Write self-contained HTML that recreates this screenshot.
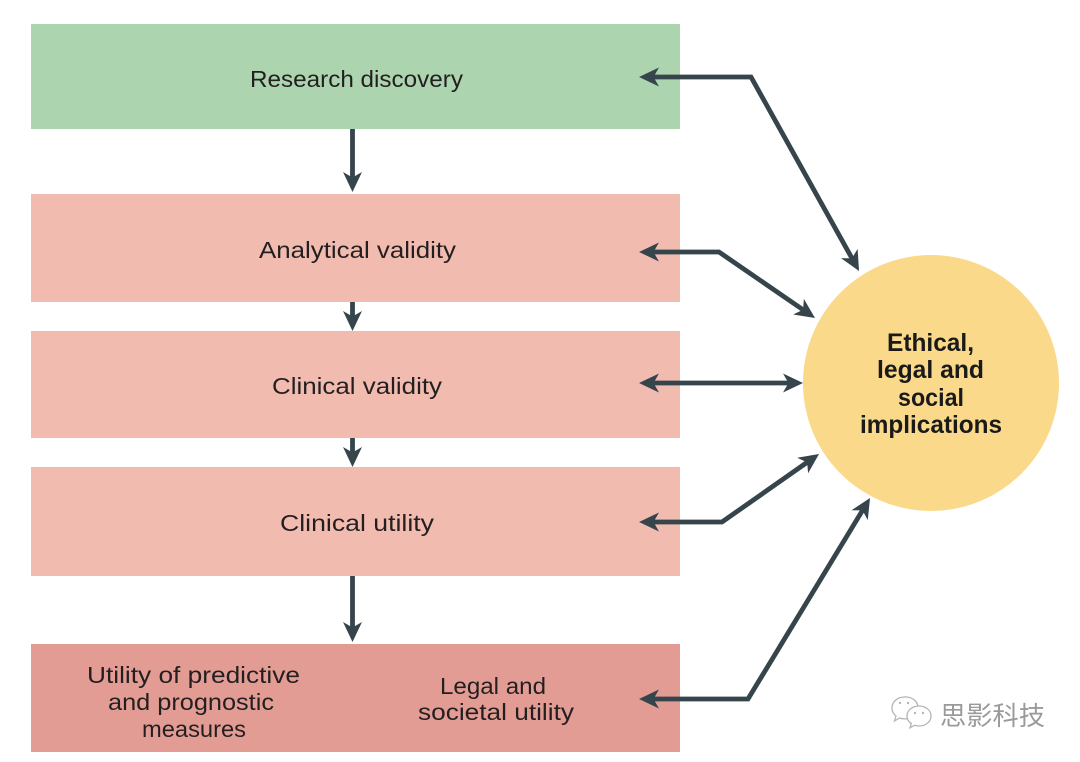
<!DOCTYPE html>
<html>
<head>
<meta charset="utf-8">
<style>
  html, body { margin:0; padding:0; background:#ffffff; }
  body { width:1080px; height:762px; overflow:hidden; }
  svg { display:block; }
  .lbl { font-family:"Liberation Sans", sans-serif; font-size:23px; fill:#231f20; }
  .bold { font-family:"Liberation Sans", sans-serif; font-size:25px; font-weight:bold; fill:#1a1a1a; }
</style>
</head>
<body>
<svg width="1080" height="762" viewBox="0 0 1080 762" xmlns="http://www.w3.org/2000/svg">
  <defs>
    <marker id="ah" markerUnits="userSpaceOnUse" markerWidth="22" markerHeight="22" viewBox="0 0 22 22" refX="8" refY="10" orient="auto-start-reverse">
      <path d="M0,0.5 L20,10 L0,19.5 L5.5,10 Z" fill="#36444b"/>
    </marker>
  </defs>

  <!-- boxes -->
  <rect x="31" y="24" width="649" height="105" fill="#acd4ae"/>
  <rect x="31" y="194" width="649" height="108" fill="#f1bbb0"/>
  <rect x="31" y="331" width="649" height="107" fill="#f1bbb0"/>
  <rect x="31" y="467" width="649" height="109" fill="#f1bbb0"/>
  <rect x="31" y="644" width="649" height="108" fill="#e39c94"/>

  <!-- circle -->
  <circle cx="931" cy="383" r="128" fill="#fbd98a"/>

  <!-- box labels -->
  <text class="lbl" x="356.5" y="87" text-anchor="middle" textLength="213" lengthAdjust="spacingAndGlyphs">Research discovery</text>
  <text class="lbl" x="357.5" y="258" text-anchor="middle" textLength="197" lengthAdjust="spacingAndGlyphs">Analytical validity</text>
  <text class="lbl" x="357" y="394" text-anchor="middle" textLength="170" lengthAdjust="spacingAndGlyphs">Clinical validity</text>
  <text class="lbl" x="357" y="531" text-anchor="middle" textLength="154" lengthAdjust="spacingAndGlyphs">Clinical utility</text>

  <text class="lbl" x="193.5" y="683" text-anchor="middle" textLength="213" lengthAdjust="spacingAndGlyphs">Utility of predictive</text>
  <text class="lbl" x="191" y="710" text-anchor="middle" textLength="166" lengthAdjust="spacingAndGlyphs">and prognostic</text>
  <text class="lbl" x="194" y="737" text-anchor="middle" textLength="104" lengthAdjust="spacingAndGlyphs">measures</text>

  <text class="lbl" x="493" y="694" text-anchor="middle" textLength="106" lengthAdjust="spacingAndGlyphs">Legal and</text>
  <text class="lbl" x="496" y="720" text-anchor="middle" textLength="156" lengthAdjust="spacingAndGlyphs">societal utility</text>

  <!-- circle labels -->
  <text class="bold" x="930.5" y="351" text-anchor="middle" textLength="87" lengthAdjust="spacingAndGlyphs">Ethical,</text>
  <text class="bold" x="930.5" y="378" text-anchor="middle" textLength="107" lengthAdjust="spacingAndGlyphs">legal and</text>
  <text class="bold" x="931" y="406" text-anchor="middle" textLength="66" lengthAdjust="spacingAndGlyphs">social</text>
  <text class="bold" x="931" y="433" text-anchor="middle" textLength="142" lengthAdjust="spacingAndGlyphs">implications</text>

  <!-- down arrows -->
  <g stroke="#36444b" stroke-width="4.8" fill="none">
    <line x1="352.5" y1="129" x2="352.5" y2="180" marker-end="url(#ah)"/>
    <line x1="352.5" y1="302" x2="352.5" y2="319" marker-end="url(#ah)"/>
    <line x1="352.5" y1="438" x2="352.5" y2="455" marker-end="url(#ah)"/>
    <line x1="352.5" y1="576" x2="352.5" y2="630" marker-end="url(#ah)"/>
  </g>

  <!-- connectors to circle -->
  <g stroke="#36444b" stroke-width="4.8" fill="none" stroke-linejoin="miter">
    <polyline points="651,77 751,77 853.2,260.5" marker-start="url(#ah)" marker-end="url(#ah)"/>
    <polyline points="651,252 719,252 805.1,311.2" marker-start="url(#ah)" marker-end="url(#ah)"/>
    <line x1="651" y1="383" x2="791" y2="383" marker-start="url(#ah)" marker-end="url(#ah)"/>
    <polyline points="651,522 722,522 809.2,460.9" marker-start="url(#ah)" marker-end="url(#ah)"/>
    <polyline points="651,699 748,699 863.8,508.3" marker-start="url(#ah)" marker-end="url(#ah)"/>
  </g>

  <!-- watermark -->
  <g fill="#ffffff" stroke="#b5b5b5" stroke-width="1.3">
    <path d="M905,697 c-8,0 -13,5 -13,11 c0,3.5 1.5,6 4,8 l-1.5,5 l5,-3 c1.8,0.6 3.6,0.9 5.5,0.9 c8,0 13,-5 13,-11 c0,-6 -5,-11 -13,-11 z"/>
    <path d="M919,706 c7,0 12,4.5 12,10 c0,5.5 -5,10 -12,10 c-1.6,0 -3,-0.2 -4.5,-0.7 l-4.5,2.5 l1.3,-4.2 c-2.7,-1.8 -4.3,-4.5 -4.3,-7.6 c0,-5.5 5,-10 12,-10 z"/>
  </g>
  <g fill="#b5b5b5">
    <circle cx="900" cy="703" r="1.2"/>
    <circle cx="908" cy="703" r="1.2"/>
    <circle cx="915" cy="713" r="1.2"/>
    <circle cx="923" cy="713" r="1.2"/>
  </g>
  <text x="940" y="725" font-family="'Liberation Sans','Noto Sans CJK SC',sans-serif" font-size="26" fill="#9a9a9a" textLength="105" lengthAdjust="spacingAndGlyphs">思影科技</text>
</svg>
</body>
</html>
